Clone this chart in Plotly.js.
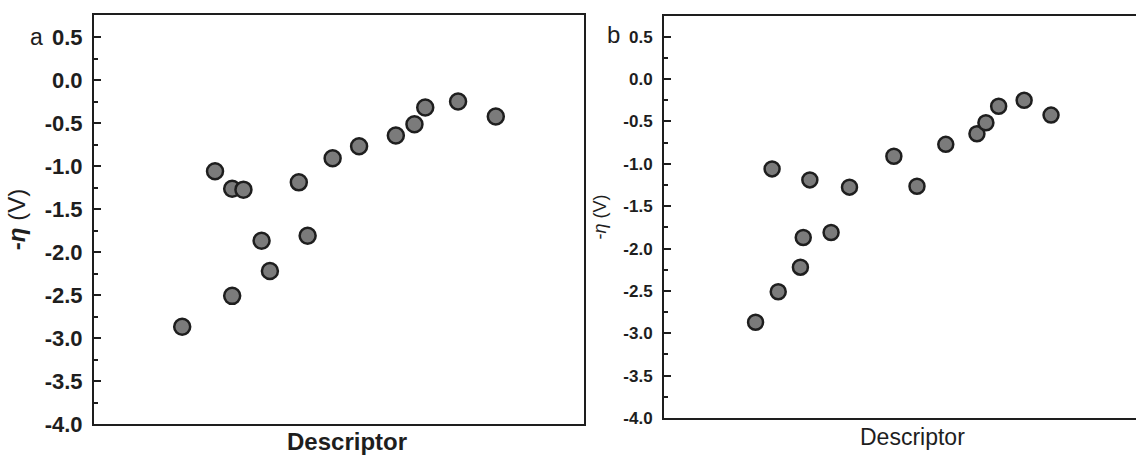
<!DOCTYPE html>
<html>
<head>
<meta charset="utf-8">
<script src="https://cdn.plot.ly/plotly-3.0.1.min.js"></script>
<style>
  html, body { margin: 0; padding: 0; background: #ffffff; }
  #chart { width: 1136px; height: 461px; }
</style>
</head>
<body>
<div id="chart"></div>
<script>
// Overpotential (shared by both panels) and the descriptor value of each catalyst
const eta = [-2.87, -2.51, -2.22, -1.87, -1.81, -1.265, -1.275, -1.19, -1.06, -0.91, -0.77, -0.645, -0.515, -0.32, -0.25, -0.425];
const descriptorA = [1.80, 2.82, 3.59, 3.42, 4.36, 2.82, 3.05, 4.18, 2.47, 4.87, 5.41, 6.16, 6.54, 6.76, 7.43, 8.20];
const descriptorB = [1.94, 2.42, 2.89, 2.95, 3.54, 5.36, 3.93, 3.09, 2.29, 4.87, 5.97, 6.63, 6.82, 7.09, 7.63, 8.20];
const yTickVals = [0.5, 0.0, -0.5, -1.0, -1.5, -2.0, -2.5, -3.0, -3.5, -4.0];
const yTickText = ['0.5', '0.0', '-0.5', '-1.0', '-1.5', '-2.0', '-2.5', '-3.0', '-3.5', '-4.0'];
const yMinorVals = [0.25, -0.25, -0.75, -1.25, -1.75, -2.25, -2.75, -3.25, -3.75];

const FONT = 'Liberation Sans, Arial, Helvetica, sans-serif';
const INK = '#1e1e1e';
const W = 1136, H = 461;

function markerStyle(size) {
  return { size: size, color: '#7b7b7b', line: { color: INK, width: 2.5 } };
}

const traces = [
  { type: 'scatter', mode: 'markers', x: descriptorA, y: eta, xaxis: 'x', yaxis: 'y',
    marker: markerStyle(16), hoverinfo: 'x+y' },
  { type: 'scatter', mode: 'markers', x: descriptorB, y: eta, xaxis: 'x2', yaxis: 'y2',
    marker: markerStyle(15), hoverinfo: 'x+y' }
];

function yAxis(opts) {
  return {
    domain: opts.domain, range: opts.range, anchor: opts.anchor,
    showline: true, linecolor: INK, linewidth: 2, mirror: opts.mirror,
    showgrid: false, zeroline: false,
    ticks: 'inside', ticklen: 7, tickwidth: 2, tickcolor: INK,
    tickvals: yTickVals, ticktext: yTickText,
    ticklabelstandoff: opts.labelStandoff,
    tickfont: { family: FONT, size: opts.fontSize, color: INK, weight: 'bold' },
    minor: { tickvals: yMinorVals, ticks: 'inside', ticklen: 3.5, tickwidth: 2,
             tickcolor: INK, showgrid: false },
    title: { text: opts.title, standoff: opts.standoff,
             font: { family: FONT, size: opts.titleSize, color: INK } }
  };
}

function xAxis(domain, anchor) {
  return {
    domain: domain, range: [0, 10], anchor: anchor,
    showline: true, linecolor: INK, linewidth: 2, mirror: true,
    showgrid: false, zeroline: false, ticks: '', showticklabels: false
  };
}

const layout = {
  width: W, height: H,
  margin: { l: 0, r: 0, t: 0, b: 0 },
  paper_bgcolor: '#ffffff', plot_bgcolor: '#ffffff',
  showlegend: false,
  xaxis: xAxis([94 / W, 584 / W], 'y'),
  yaxis: yAxis({ domain: [1 - 424 / H, 1 - 15 / H], range: [-4.0, 0.756], anchor: 'x',
                 mirror: true, fontSize: 22, labelStandoff: 5,
                 title: '<b>-<i>η</i></b> (V)', titleSize: 24, standoff: 12 }),
  xaxis2: xAxis([664 / W, 1], 'y2'),
  yaxis2: yAxis({ domain: [1 - 418 / H, 1 - 16 / H], range: [-4.0, 0.745], anchor: 'x2',
                  mirror: false, fontSize: 17, labelStandoff: 6,
                  title: '-<i>η</i> (V)', titleSize: 18, standoff: 12 }),
  annotations: [
    { text: '<b>Descriptor</b>', xref: 'paper', yref: 'paper', x: 347 / W, y: 1 - 441 / H,
      xanchor: 'center', yanchor: 'middle', showarrow: false,
      font: { family: FONT, size: 24, color: INK } },
    { text: 'Descriptor', xref: 'paper', yref: 'paper', x: 912 / W, y: 1 - 437 / H,
      xanchor: 'center', yanchor: 'middle', showarrow: false,
      font: { family: FONT, size: 23, color: INK } },
    { text: 'a', xref: 'paper', yref: 'paper', x: 36 / W, y: 1 - 37 / H,
      xanchor: 'center', yanchor: 'middle', showarrow: false,
      font: { family: FONT, size: 23, color: INK } },
    { text: 'b', xref: 'paper', yref: 'paper', x: 613 / W, y: 1 - 35 / H,
      xanchor: 'center', yanchor: 'middle', showarrow: false,
      font: { family: FONT, size: 24, color: INK } }
  ]
};

Plotly.newPlot('chart', traces, layout, { displayModeBar: false, staticPlot: true });
</script>
</body>
</html>
